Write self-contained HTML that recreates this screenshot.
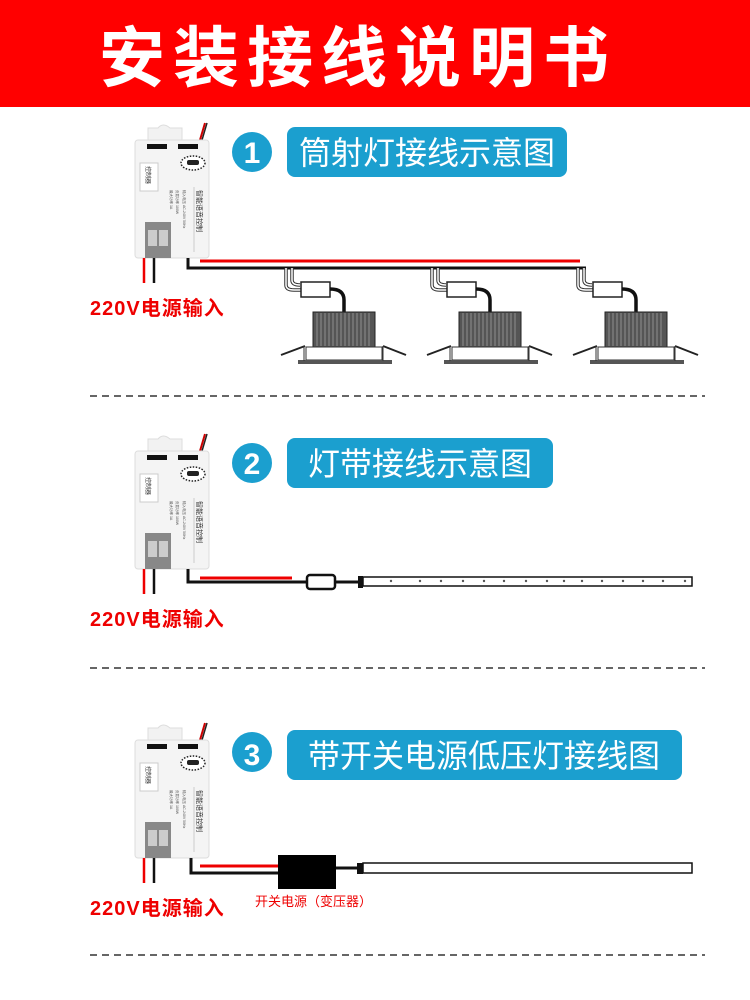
<!DOCTYPE html>
<html><head><meta charset="utf-8"><style>
html,body{margin:0;padding:0;background:#fff;width:750px;height:1000px;overflow:hidden}
svg{display:block}
</style></head><body>
<svg width="750" height="1000" viewBox="0 0 750 1000" xmlns="http://www.w3.org/2000/svg" font-family="Liberation Sans, Noto Sans CJK SC, sans-serif">
<defs>
<g id="dev">
  <path d="M148 140 L148 128 L158 128 Q163 122 170 128 L182 128 L182 140 Z" fill="#f2f2f2" stroke="#ddd"/>
  <line x1="205" y1="123" x2="200" y2="140" stroke="#c00" stroke-width="2"/>
  <line x1="207" y1="123" x2="202" y2="140" stroke="#222" stroke-width="1.5"/>
  <rect x="135" y="140" width="74" height="118" rx="3" fill="#f4f4f4" stroke="#ddd"/>
  <rect x="147" y="144" width="20" height="5" fill="#111"/>
  <rect x="178" y="144" width="20" height="5" fill="#111"/>
  <ellipse cx="193" cy="163" rx="12" ry="7" fill="#fff" stroke="#222" stroke-dasharray="1.5,1.5" stroke-width="1.5"/>
  <rect x="187" y="160" width="12" height="5" fill="#222" rx="2"/>
  <rect x="140" y="163" width="18" height="28" fill="#fff" stroke="#ccc"/>
  <text x="0" y="0" font-size="6" fill="#333" transform="translate(146,166) rotate(90)">控制器</text>
  <line x1="194" y1="187" x2="194" y2="252" stroke="#ccc"/>
  <text font-size="7" fill="#333" transform="translate(197,190) rotate(90)">智能语音控制</text>
  <text font-size="3.5" fill="#555" transform="translate(183,190) rotate(90)">输入电压 AC-240V 50Hz</text>
  <text font-size="3.5" fill="#555" transform="translate(176,190) rotate(90)">负载功率 100W</text>
  <text font-size="3.5" fill="#555" transform="translate(170,190) rotate(90)">最大功率 1A</text>
  <rect x="145" y="222" width="26" height="36" fill="#888"/>
  <rect x="148" y="230" width="9" height="16" fill="#ccc"/>
  <rect x="159" y="230" width="9" height="16" fill="#ccc"/>
  <line x1="144" y1="258" x2="144" y2="283" stroke="#e00" stroke-width="2.5"/>
  <line x1="154" y1="258" x2="154" y2="283" stroke="#111" stroke-width="2.5"/>
  <text x="90" y="315" font-size="20" font-weight="bold" fill="#e00" letter-spacing="1">220V电源输入</text>
  <circle cx="252" cy="152" r="20" fill="#1b9fcf"/>
</g>
<g id="dl">
  <path d="M286 268 L286 285 Q286 290 294 290 L301 290" fill="none" stroke="#333" stroke-width="3.5"/>
  <path d="M286 268 L286 285 Q286 290 294 290 L301 290" fill="none" stroke="#fff" stroke-width="1.5"/>
  <path d="M292 268 L292 280 Q292 285 300 285" fill="none" stroke="#333" stroke-width="3.5"/>
  <path d="M292 268 L292 280 Q292 285 300 285" fill="none" stroke="#fff" stroke-width="1.5"/>
  <rect x="301" y="282" width="29" height="15" fill="#fff" stroke="#222" stroke-width="1.5"/>
  <path d="M330 289 Q344 289 344 300 L344 312" fill="none" stroke="#111" stroke-width="3.5"/>
  <rect x="313" y="312" width="62" height="35" fill="#555" stroke="#222"/>
  <g stroke="#aaa" stroke-width="0.7">
    <line x1="317" y1="313" x2="317" y2="346"/><line x1="321" y1="313" x2="321" y2="346"/><line x1="325" y1="313" x2="325" y2="346"/><line x1="329" y1="313" x2="329" y2="346"/><line x1="333" y1="313" x2="333" y2="346"/><line x1="337" y1="313" x2="337" y2="346"/><line x1="341" y1="313" x2="341" y2="346"/><line x1="345" y1="313" x2="345" y2="346"/><line x1="349" y1="313" x2="349" y2="346"/><line x1="353" y1="313" x2="353" y2="346"/><line x1="357" y1="313" x2="357" y2="346"/><line x1="361" y1="313" x2="361" y2="346"/><line x1="365" y1="313" x2="365" y2="346"/><line x1="369" y1="313" x2="369" y2="346"/>
  </g>
  <rect x="306" y="347" width="76" height="13" fill="#fff" stroke="#333"/>
  <rect x="298" y="360" width="94" height="4" fill="#555"/>
  <line x1="281" y1="355" x2="305" y2="346" stroke="#222" stroke-width="2"/>
  <line x1="383" y1="346" x2="406" y2="355" stroke="#222" stroke-width="2"/>
  <line x1="304" y1="346" x2="304" y2="361" stroke="#333"/>
  <line x1="383" y1="346" x2="383" y2="361" stroke="#333"/>
</g>
</defs>

<rect x="0" y="0" width="750" height="107" fill="#ff0000"/>
<text x="358" y="81" font-size="66" font-weight="bold" fill="#fff" text-anchor="middle" letter-spacing="8">安装接线说明书</text>

<!-- Section 1 -->
<use href="#dev"/>
<text x="252" y="163" font-size="30" fill="#fff" text-anchor="middle" font-weight="bold">1</text>
<rect x="287" y="127" width="280" height="50" rx="8" fill="#1b9fcf"/>
<text x="427" y="164" font-size="32" fill="#fff" text-anchor="middle">筒射灯接线示意图</text>
<line x1="200" y1="261" x2="580" y2="261" stroke="#e00" stroke-width="3"/>
<path d="M188 258 L188 268 L586 268" fill="none" stroke="#111" stroke-width="3"/>
<use href="#dl"/>
<use href="#dl" x="146"/>
<use href="#dl" x="292"/>
<line x1="90" y1="396" x2="705" y2="396" stroke="#333" stroke-width="1.5" stroke-dasharray="7,5"/>

<!-- Section 2 -->
<use href="#dev" y="311"/>
<text x="252" y="474" font-size="30" fill="#fff" text-anchor="middle" font-weight="bold">2</text>
<rect x="287" y="438" width="266" height="50" rx="8" fill="#1b9fcf"/>
<text x="420" y="475" font-size="32" fill="#fff" text-anchor="middle">灯带接线示意图</text>
<line x1="200" y1="578" x2="292" y2="578" stroke="#e00" stroke-width="3"/>
<path d="M188 569 L188 582 L308 582" fill="none" stroke="#111" stroke-width="3"/>
<rect x="307" y="575" width="28" height="14" rx="3" fill="#fff" stroke="#111" stroke-width="2.5"/>
<line x1="335" y1="582" x2="360" y2="582" stroke="#111" stroke-width="3"/>
<rect x="358" y="576" width="5" height="12" fill="#111"/>
<rect x="363" y="577" width="329" height="9" fill="#fff" stroke="#111" stroke-width="1.5"/>
<g fill="#555">
<circle cx="391" cy="581" r="1.2"/><circle cx="420" cy="581" r="1.2"/><circle cx="441" cy="581" r="1.2"/><circle cx="463" cy="581" r="1.2"/><circle cx="484" cy="581" r="1.2"/><circle cx="504" cy="581" r="1.2"/><circle cx="526" cy="581" r="1.2"/><circle cx="547" cy="581" r="1.2"/><circle cx="564" cy="581" r="1.2"/><circle cx="582" cy="581" r="1.2"/><circle cx="602" cy="581" r="1.2"/><circle cx="623" cy="581" r="1.2"/><circle cx="643" cy="581" r="1.2"/><circle cx="663" cy="581" r="1.2"/><circle cx="685" cy="581" r="1.2"/>
</g>
<line x1="90" y1="668" x2="705" y2="668" stroke="#333" stroke-width="1.5" stroke-dasharray="7,5"/>

<!-- Section 3 -->
<use href="#dev" y="600"/>
<text x="252" y="765" font-size="30" fill="#fff" text-anchor="middle" font-weight="bold">3</text>
<rect x="287" y="730" width="395" height="50" rx="8" fill="#1b9fcf"/>
<text x="484" y="767" font-size="32" fill="#fff" text-anchor="middle">带开关电源低压灯接线图</text>
<line x1="200" y1="866" x2="280" y2="866" stroke="#e00" stroke-width="3"/>
<path d="M191 858 L191 873 L280 873" fill="none" stroke="#111" stroke-width="3"/>
<rect x="278" y="855" width="58" height="34" fill="#000"/>
<line x1="336" y1="868" x2="360" y2="868" stroke="#111" stroke-width="3"/>
<rect x="357" y="863" width="6" height="11" fill="#111"/>
<rect x="363" y="863" width="329" height="10" fill="#fff" stroke="#111" stroke-width="1.5"/>
<text x="255" y="906" font-size="13" fill="#e00">开关电源（变压器）</text>
<line x1="90" y1="955" x2="705" y2="955" stroke="#333" stroke-width="1.5" stroke-dasharray="7,5"/>
</svg>
</body></html>
